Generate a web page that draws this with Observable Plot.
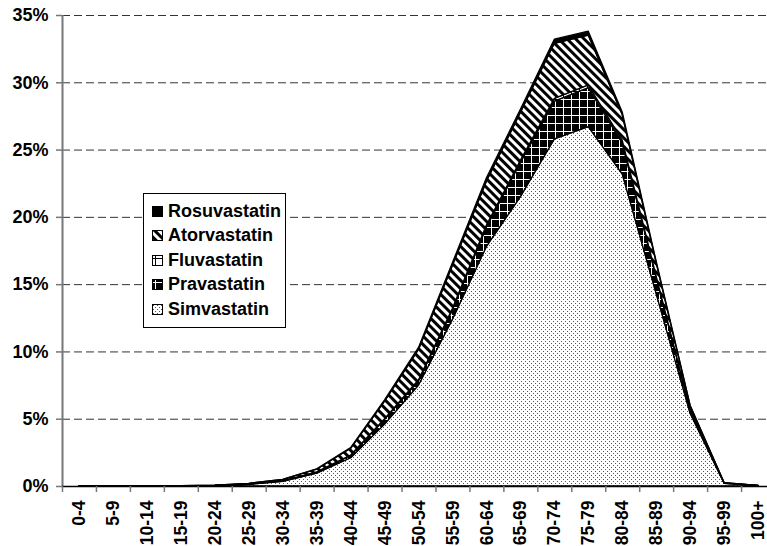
<!DOCTYPE html>
<html>
<head>
<meta charset="utf-8">
<script src="https://cdn.jsdelivr.net/npm/d3@7"></script>
<script src="https://cdn.jsdelivr.net/npm/@observablehq/plot@0.6"></script>
<style>
  html, body { margin: 0; padding: 0; background: white; }
  #wrap { position: relative; width: 767px; height: 546px; overflow: hidden; }
  #legend { position: absolute; left: 143px; top: 193px; width: 141px; height: 133px;
    border: 1px solid #000; background: white; box-sizing: content-box;
    font-family: "Liberation Sans", Arial, sans-serif; font-weight: bold; font-size: 18px; }
  .row { position: absolute; left: 8px; height: 20px; display: flex; align-items: center; white-space: nowrap; }
  .row svg { margin-right: 5px; }
</style>
</head>
<body>
<svg width="0" height="0" style="position:absolute">
  <defs>
    <pattern id="pSim" width="4" height="4" patternUnits="userSpaceOnUse">
      <rect width="4" height="4" fill="white"/>
      <rect x="1" y="1" width="1" height="1" fill="#555"/>
      <rect x="3" y="3" width="1" height="1" fill="#555"/>
    </pattern>
    <pattern id="pPra" width="8" height="8" patternUnits="userSpaceOnUse">
      <rect width="8" height="8" fill="black"/>
      <rect x="0" y="3" width="8" height="1" fill="white"/>
      <rect x="3" y="0" width="1" height="8" fill="white"/>
    </pattern>
    <pattern id="pFlu" width="8" height="8" patternUnits="userSpaceOnUse">
      <rect width="8" height="8" fill="white"/>
      <rect x="0" y="3" width="8" height="1" fill="black"/>
      <rect x="3" y="0" width="1" height="8" fill="black"/>
    </pattern>
    <pattern id="pAto" width="6" height="6" patternUnits="userSpaceOnUse" patternTransform="rotate(-45)">
      <rect width="6" height="6" fill="white"/>
      <rect x="0" y="0" width="3" height="6" fill="black"/>
    </pattern>
  </defs>
</svg>
<div id="wrap"></div>
<script>
const categories = ["0-4","5-9","10-14","15-19","20-24","25-29","30-34","35-39","40-44","45-49","50-54","55-59","60-64","65-69","70-74","75-79","80-84","85-89","90-94","95-99","100+"];
const simvastatin  = [0.01,0.02,0.01,0.02,0.04,0.13,0.35,0.95,2.1,4.6,7.5,12.4,17.8,21.5,25.8,26.7,23.2,14.3,5.4,0.2,0.03];
const pravastatin  = [0,0,0,0,0.01,0.02,0.04,0.08,0.17,0.35,0.32,0.7,1.45,2.55,2.8,2.9,2.3,1.18,0.25,0.02,0.01];
const fluvastatin  = [0,0,0,0,0,0,0.01,0.02,0.03,0.05,0.08,0.1,0.15,0.15,0.2,0.2,0.2,0.12,0.05,0,0];
const atorvastatin = [0,0,0.01,0.01,0.01,0.05,0.09,0.2,0.5,1.3,2.25,3.2,3.25,3.55,4.1,3.7,1.9,1.0,0.27,0.03,0.01];
const rosuvastatin = [0,0,0,0,0,0,0.01,0.02,0.05,0.1,0.15,0.2,0.25,0.25,0.3,0.3,0.2,0.1,0.03,0,0];
const seriesNames = ["Simvastatin","Pravastatin","Fluvastatin","Atorvastatin","Rosuvastatin"];
const seriesFills = ["url(#pSim)","url(#pPra)","url(#pFlu)","url(#pAto)","black"];
const yTicks = [0,5,10,15,20,25,30,35];

const seriesValues = [simvastatin, pravastatin, fluvastatin, atorvastatin, rosuvastatin];
const rows = [];
seriesNames.forEach((s, k) => seriesValues[k].forEach((v, i) => rows.push({series: s, i, value: v})));
const boundaries = d3.range(categories.length + 1).map(d => d - 0.5);

const chart = Plot.plot({
  width: 767, height: 546,
  marginLeft: 62, marginTop: 15, marginBottom: 60, marginRight: 0,
  x: {type: "linear", domain: [-0.5, categories.length - 0.5], range: [62, 775], axis: null, label: null},
  y: {domain: [0, 35], axis: null, label: null},
  color: {domain: seriesNames, range: seriesFills},
  style: {fontFamily: "'Liberation Sans', Arial, sans-serif", fontSize: "18px", fontWeight: "bold", background: "white"},
  marks: [
    Plot.ruleY(yTicks.filter(d => d > 0), {stroke: "#333", strokeDasharray: "8,4", strokeWidth: 1}),
    Plot.areaY(rows, {x: "i", y: "value", z: "series", fill: "series", stroke: "black", strokeWidth: 1.3, strokeLinejoin: "round"}),
    Plot.ruleX([-0.5], {stroke: "#777", strokeWidth: 2}),
    Plot.ruleY([0], {stroke: "black", strokeWidth: 1.5}),
    Plot.axisY({ticks: yTicks, tickFormat: d => d + "%", tickSize: 6, tickPadding: 8, stroke: "#777", strokeWidth: 1.5, label: null}),
    Plot.axisX({ticks: boundaries, tickFormat: () => "", tickSize: 6, stroke: "#777", strokeWidth: 1.5, label: null}),
    Plot.text(categories, {x: (d, i) => i, text: d => d, frameAnchor: "bottom", dy: 14, rotate: -90, textAnchor: "end", lineAnchor: "middle", fontSize: 17.5})
  ]
});
const wrap = document.getElementById("wrap");
wrap.appendChild(chart);

// legend
const legend = document.createElement("div");
legend.id = "legend";
const legendOrder = seriesNames.map((s, k) => [s, seriesFills[k]]).reverse();
legendOrder.forEach(([name, fill], j) => {
  const row = document.createElement("div");
  row.className = "row";
  row.style.top = (7 + j * 24.6) + "px";
  row.innerHTML = `<svg width="11" height="11"><rect x="0.5" y="0.5" width="10" height="10" fill="${fill}" stroke="black" stroke-width="1"/></svg><span>${name}</span>`;
  legend.appendChild(row);
});
wrap.appendChild(legend);
</script>
</body>
</html>
